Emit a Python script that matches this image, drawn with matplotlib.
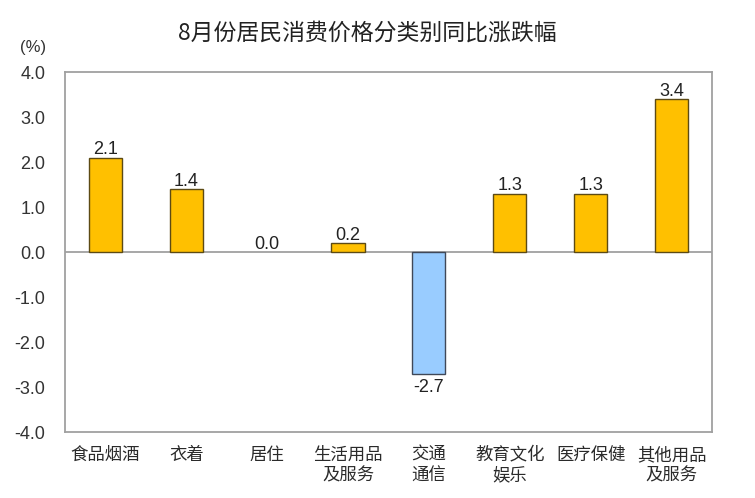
import matplotlib.pyplot as plt
import numpy as np

plt.rcParams['font.family'] = ['Noto Sans CJK SC', 'DejaVu Sans']

# data
categories = ["食品烟酒", "衣着", "居住", "生活用品\n及服务", "交通\n通信",
              "教育文化\n娱乐", "医疗保健", "其他用品\n及服务"]
values = [2.1, 1.4, 0.0, 0.2, -2.7, 1.3, 1.3, 3.4]
yticks = [-4.0, -3.0, -2.0, -1.0, 0.0, 1.0, 2.0, 3.0, 4.0]

fig = plt.figure(figsize=(7.55, 4.98), dpi=100)
ax = fig.add_axes([0.086, 0.1325, 0.857, 0.7225])

x = np.arange(len(categories))
colors = ["#FFC000" if v >= 0 else "#99CCFF" for v in values]
edges = ["#5C4A14" if v >= 0 else "#404858" for v in values]
widths = [0 if v == 0 else 1.0 for v in values]
ax.bar(x, values, width=0.41, color=colors, edgecolor=edges, linewidth=widths, zorder=3)

# value labels
for xi, v in zip(x, values):
    if v >= 0:
        ax.text(xi, v + 0.08, f"{v:.1f}", ha="center", va="baseline",
                fontsize=13, family="Liberation Sans", color="#222222")
    else:
        ax.text(xi, v - 0.12, f"{v:.1f}", ha="center", va="top",
                fontsize=13, family="Liberation Sans", color="#222222")

ax.axhline(0, color="#A0A0A0", linewidth=1.3, zorder=2)

ax.set_xlim(-0.5, len(categories) - 0.5)
ax.set_ylim(-4.0, 4.0)
ax.set_yticks(yticks)
ax.set_yticklabels([f"{t:.1f}" for t in yticks], family="Liberation Sans",
                   fontsize=13, color="#333333")
ax.set_xticks(x)
ax.set_xticklabels(categories, fontsize=12.5, color="#2a2a2a", linespacing=1.2, va="top")
ax.tick_params(axis="y", length=0, pad=14)
ax.tick_params(axis="x", length=0, pad=10)

for s in ax.spines.values():
    s.set_color("#A0A0A0")
    s.set_linewidth(1.3)

fig.text(0.486, 0.934, "8月份居民消费价格分类别同比涨跌幅", ha="center", va="center",
         fontsize=16.5, color="#222222")
fig.text(0.044, 0.904, "(%)", ha="center", va="center", fontsize=12,
         family="Liberation Sans", color="#333333")

fig.savefig("out.png", dpi=100)
